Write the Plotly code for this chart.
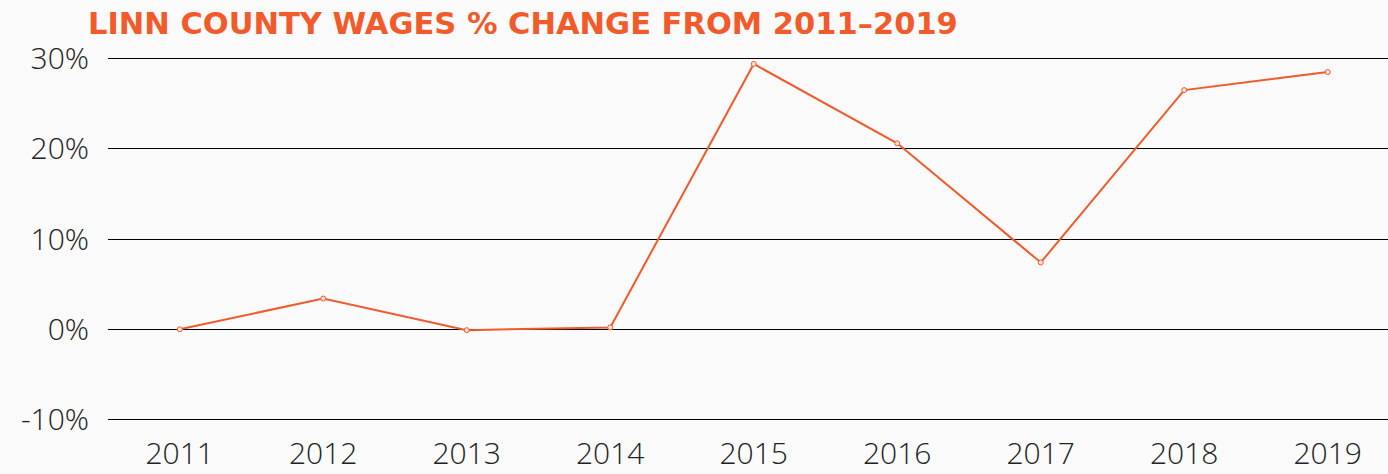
import plotly.graph_objects as go

years = ["2011", "2012", "2013", "2014", "2015", "2016", "2017", "2018", "2019"]
pct_change = [0.0, 3.4, -0.1, 0.2, 29.4, 20.6, 7.4, 26.5, 28.5]
y_ticks = [-10, 0, 10, 20, 30]
y_tick_labels = ["-10%", "0%", "10%", "20%", "30%"]

orange = "#F15A2B"

fig = go.Figure()
fig.add_trace(go.Scatter(
    x=years, y=pct_change, mode="lines+markers",
    line=dict(color=orange, width=2),
    marker=dict(size=5, color="#FDE3D8", line=dict(color=orange, width=1)),
    hoverinfo="x+y",
))

fig.update_layout(
    width=1388, height=474,
    paper_bgcolor="#FAFAFA", plot_bgcolor="#FAFAFA",
    margin=dict(l=108, r=0, t=53.5, b=49.5, autoexpand=False),
    showlegend=False,
    title=dict(
        text="<b>LINN COUNTY WAGES % CHANGE FROM 2011–2019</b>",
        x=88 / 1388, xanchor="left", y=1 - 23 / 474, yanchor="middle",
        font=dict(family="DejaVu Sans, sans-serif", size=30.5, color=orange),
    ),
    xaxis=dict(
        type="category", range=[-0.5, 8.42],
        showgrid=False, zeroline=False, showline=False,
        tickfont=dict(family="Open Sans", size=30, color="#222222", weight=300),
        ticks="", ticklabelstandoff=9,
    ),
    yaxis=dict(
        range=[-10.5, 30.5], tickvals=y_ticks, ticktext=y_tick_labels,
        showgrid=True, gridcolor="#000000", gridwidth=1,
        zeroline=False, showline=False,
        tickfont=dict(family="Open Sans", size=30, color="#222222", weight=300),
        ticks="", ticklabelstandoff=18,
    ),
)

fig.write_html(
    "out.html",
    config={"displayModeBar": False},
    post_script="document.body.style.margin='0';document.body.style.background='#FAFAFA';",
)
